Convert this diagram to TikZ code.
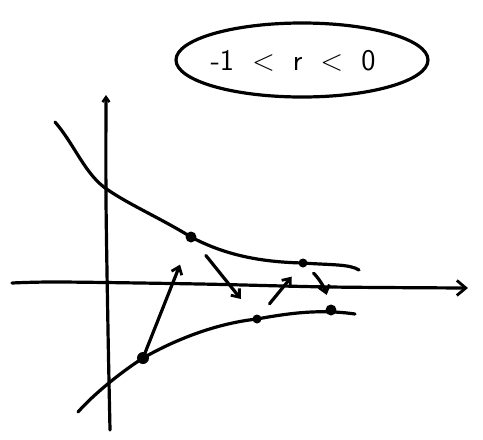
\documentclass[tikz,border=0pt]{standalone}
\usetikzlibrary{arrows.meta}

\begin{document}
\begin{tikzpicture}[x=1pt,y=-1pt,line cap=round,line join=round,
    pen/.style={line width=3.2pt},
    dot/.style={circle,fill=black,inner sep=0pt,minimum size=#1},
    dot/.default=9pt,
    cob/.style={pen,-{Straight Barb[length=7pt,width=11pt,line width=2.8pt]}}]
  \useasboundingbox (0,0) rectangle (483,440);

  % label in its loop
  \draw[pen] (302,60) ellipse [x radius=126,y radius=37];
  \node[font=\sffamily\fontsize{30}{34}\selectfont] (cond) at (293,61)
    {-1\hspace{0.6em}<\hspace{0.6em}r\hspace{0.6em}<\hspace{0.6em}0};

  % axes
  \draw[pen,-{Straight Barb[length=9pt,width=15pt,line width=2.8pt]}]
    plot[smooth] coordinates {(12,283) (60,282) (200,284) (330,287) (468,288)};
  \draw[pen,-{Straight Barb[length=5pt,width=7pt,line width=2.4pt]}]
    plot[smooth] coordinates {(110,430) (108,330) (106,200) (106,95)};

  % upper and lower branches
  \draw[pen] (55,122) .. controls (75,145) and (85,175) .. (108,190)
    .. controls (130,205) and (160,218) .. (191,237)
    .. controls (225,255) and (260,262) .. (303,263)
    .. controls (330,265) and (350,264) .. (359,270);
  \draw[pen] (78,412) .. controls (95,393) and (120,373) .. (143,358)
    .. controls (180,337) and (220,323) .. (257,319)
    .. controls (290,313) and (320,309) .. (355,314);

  % iterates
  \node[dot=12pt] (p0) at (143,358) {};
  \node[dot=11pt] (p1) at (191,237) {};
  \node[dot=9pt]  (p2) at (257,319) {};
  \node[dot=9pt]  (p3) at (303,263) {};
  \node[dot=11pt] (p4) at (331,310) {};

  % cobweb steps
  \draw[cob,shorten >=24pt] (p0) -- (p1);
  \draw[cob,shorten <=18pt,shorten >=21pt] (p1) -- (p2);
  \draw[cob,shorten <=15pt,shorten >=13pt] (p2) -- (p3);
  \draw[cob,shorten <=10pt,shorten >=10pt] (p3) to[bend left=15] (p4);
\end{tikzpicture}
\end{document}
